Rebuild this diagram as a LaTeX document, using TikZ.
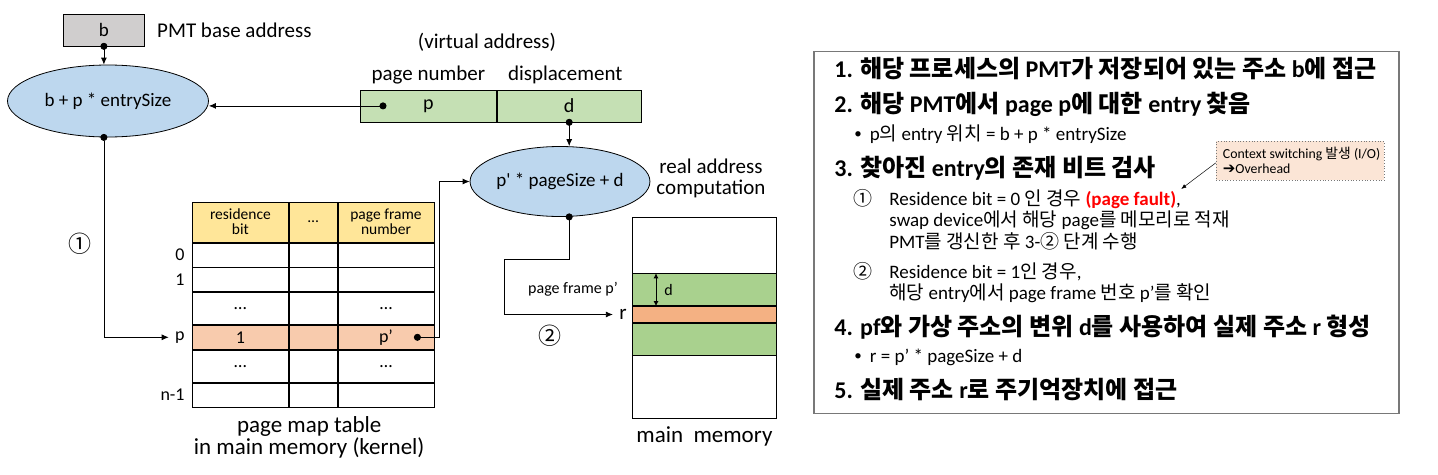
\documentclass[tikz,border=0pt]{standalone}
\usepackage{fontspec}
\setmainfont{Carlito}
\newfontfamily\plainfont{Carlito}
\newfontfamily\krfont{Noto Sans CJK KR}
\newfontfamily\symfont{DejaVu Sans}
\newcommand{\kor}[1]{{\krfont #1}}
\newcommand{\prm}{{\plainfont '}}
\newcommand{\bul}{\raisebox{1.5pt}{\fontsize{15}{15}\selectfont •}\hspace{8pt}}
\usetikzlibrary{arrows.meta,positioning,shapes.geometric}
\definecolor{regfill}{RGB}{208,206,206}
\definecolor{calcfill}{RGB}{189,215,238}
\definecolor{fieldfill}{RGB}{197,224,180}
\definecolor{headfill}{RGB}{255,230,153}
\definecolor{rowfill}{RGB}{248,203,173}
\definecolor{memgreen}{RGB}{169,209,142}
\definecolor{memorange}{RGB}{244,177,131}
\definecolor{notefill}{RGB}{251,229,214}
\definecolor{panelgray}{RGB}{120,120,120}

\begin{document}
\begin{tikzpicture}[
    x=1pt, y=-1pt,
    line width=0.8pt,
    lbl/.style={inner sep=0pt, align=center, font=\fontsize{21}{21}\selectfont},
    reg/.style={draw, fill=regfill, inner sep=0pt, minimum width=81pt, minimum height=32pt, font=\fontsize{19}{20}\selectfont},
    calc/.style={draw, ellipse, fill=calcfill, inner sep=0pt, font=\fontsize{19}{20}\selectfont},
    field/.style={draw, fill=fieldfill, inner sep=0pt, minimum height=32pt, font=\fontsize{20}{20}\selectfont},
    head/.style={draw, fill=headfill, inner sep=0pt, minimum height=40pt, align=center, font=\fontsize{15.5}{15}\selectfont},
    cell/.style={draw, inner sep=0pt, minimum height=24pt, font=\fontsize{18}{18}\selectfont},
    rowlab/.style={inner sep=0pt, font=\fontsize{18}{18}\selectfont},
    band/.style={draw, inner sep=0pt, minimum width=144pt},
    line/.style={-{Latex[length=7pt,width=6pt]}},
    dotline/.style={{Circle[length=7pt]}-{Latex[length=7pt,width=6pt]}, shorten <=-3.5pt},
    stephead/.style={anchor=base west, inner sep=0pt, font=\fontsize{24}{24}\selectfont\bfseries},
    stepsub/.style={anchor=base west, inner sep=0pt, font=\fontsize{19}{19}\selectfont}
]
\useasboundingbox (0,0) rectangle (1438,474);

% base register and first computation
\node[reg, anchor=north west] (bbox) at (63,13.5) {b};
\node[lbl, anchor=west, right=12pt of bbox] (bboxlab) {PMT base address};
\node[calc, minimum width=201pt, minimum height=72pt] (addrcalc) at (108,101) {b + p * entrySize};

% virtual address
\node[field, minimum width=136pt, anchor=north west] (pcell) at (360,89.5) {p};
\node[field, minimum width=144pt, right=0pt of pcell] (dcell) {d};
\node[lbl, above=5pt of pcell] (pnlab) {page number};
\node[lbl, above=5pt of dcell, xshift=-4pt] (dlab) {displacement};
\node[lbl] (vlab) at (487,42) {(virtual address)};
\coordinate (pdot) at ([xshift=23pt]pcell.west);

% real address computation
\node[calc, minimum width=176pt, minimum height=70pt] (realcalc) at (560,181.5) {p\prm{} * pageSize + d};
\node[lbl] (reallab) at (711,178) {real address\\computation};

% page map table
\node[head, minimum width=96pt, anchor=north west] (hres) at (192,201.7) {residence\\bit};
\node[head, minimum width=48pt, right=0pt of hres] (hdots) {…};
\node[head, minimum width=96pt, right=0pt of hdots] (hpf) {page frame\\number};
\node[cell, minimum width=96pt, below=0pt of hres] (r0a) {};
\node[cell, minimum width=48pt, below=0pt of hdots] (r0b) {};
\node[cell, minimum width=96pt, below=0pt of hpf] (r0c) {};
\node[cell, minimum width=96pt, below=0pt of r0a] (r1a) {};
\node[cell, minimum width=48pt, below=0pt of r0b] (r1b) {};
\node[cell, minimum width=96pt, below=0pt of r0c] (r1c) {};
\node[cell, minimum width=96pt, minimum height=32pt, below=0pt of r1a] (r2a) {…};
\node[cell, minimum width=48pt, minimum height=32pt, below=0pt of r1b] (r2b) {};
\node[cell, minimum width=96pt, minimum height=32pt, below=0pt of r1c] (r2c) {…};
\node[cell, fill=rowfill, minimum width=96pt, below=0pt of r2a] (rpa) {1};
\node[cell, fill=rowfill, minimum width=48pt, below=0pt of r2b] (rpb) {};
\node[cell, fill=rowfill, minimum width=96pt, below=0pt of r2c] (rpc) {p’};
\node[cell, minimum width=96pt, minimum height=32pt, below=0pt of rpa] (r4a) {…};
\node[cell, minimum width=48pt, minimum height=32pt, below=0pt of rpb] (r4b) {};
\node[cell, minimum width=96pt, minimum height=32pt, below=0pt of rpc] (r4c) {…};
\node[cell, minimum width=96pt, below=0pt of r4a] (rna) {};
\node[cell, minimum width=48pt, below=0pt of r4b] (rnb) {};
\node[cell, minimum width=96pt, below=0pt of r4c] (rnc) {};
\node[rowlab, left=7pt of r0a] (lab0) {0};
\node[rowlab, left=7pt of r1a] (lab1) {1};
\node[rowlab, left=7pt of rpa] (labp) {p};
\node[rowlab, left=7pt of rna] (labn) {n-1};
\node[lbl, font=\fontsize{23}{21.5}\selectfont, below=9pt of rnb, xshift=-4pt] (pmtlab) {page map table\\in main memory (kernel)};
\coordinate (pfdot) at ([xshift=-17pt]rpc.east);

% main memory
\node[band, minimum height=200.5pt, anchor=north west] (mem) at (632,217.3) {};
\node[band, fill=memgreen, minimum height=32pt, anchor=north west] (frametop) at (632,273.3) {};
\node[band, fill=memorange, minimum height=16pt, below=0pt of frametop] (target) {};
\node[band, fill=memgreen, minimum height=32.4pt, below=0pt of target] (framebot) {};
\node[rowlab, font=\fontsize{21}{20}\selectfont, left=5pt of target] (rlab) {r};
\node[rowlab, font=\fontsize{16}{16}\selectfont, anchor=west] (offlab) at ([xshift=32pt]frametop.west) {d};
\node[lbl, font=\fontsize{23}{21}\selectfont, below=8pt of mem] (memlab) {main\ \ memory};
\node[lbl, font=\fontsize{16}{16}\selectfont] (pflab) at (573,289) {page frame p’};
\node[lbl, font=\fontsize{23}{20}\selectfont] (stepone) at (80,244) {\kor{①}};
\node[lbl, font=\fontsize{23}{20}\selectfont] (steptwo) at (550,336) {\kor{②}};

% connectors
\draw[dotline] (bbox.south) -- (bbox.south |- addrcalc.north);
\draw[dotline] (pdot) -- (addrcalc.east |- pdot);
\draw[dotline] (bbox.south |- addrcalc.south) |- ([xshift=-6pt]labp.west);
\draw[dotline] (dcell.south) -- (dcell.south |- realcalc.north);
\draw[dotline] (pfdot) -| ([xshift=-30pt]realcalc.west) -- (realcalc.west);
\draw[dotline] (dcell.south |- realcalc.south) |- ++(-65,42.5) |- ([xshift=-6pt]rlab.west);
\draw[{Latex[length=5pt,width=5pt]}-{Latex[length=5pt,width=5pt]}] ([xshift=24pt]frametop.north west) -- ([xshift=24pt]frametop.south west);

% steps panel
\node[draw=panelgray, line width=1.2pt, minimum width=585pt, minimum height=362pt, anchor=north west] (panel) at (813.3,51) {};
\node[stephead] (task1) at (834,77) {1. \kor{해당 프로세스의} PMT\kor{가 저장되어 있는 주소} b\kor{에 접근}};
\node[stephead] (task2) at (834,112) {2. \kor{해당} PMT\kor{에서} page p\kor{에 대한} entry \kor{찾음}};
\node[stepsub] (task2a) at (854,140) {\bul p\kor{의} entry \kor{위치} = b + p * entrySize};
\node[stephead] (task3) at (834,176) {3. \kor{찾아진} entry\kor{의 존재 비트 검사}};
\node[stepsub] (task3m1) at (853,205) {\kor{①}};
\node[stepsub] (task3a) at (889,205) {Residence bit = 0 \kor{인 경우} \textcolor{red}{\bfseries (page fault)},};
\node[stepsub] (task3b) at (889,226.5) {swap device\kor{에서 해당} page\kor{를 메모리로 적재}};
\node[stepsub] (task3c) at (889,248) {PMT\kor{를 갱신한 후} 3-\kor{②} \kor{단계 수행}};
\node[stepsub] (task3m2) at (853,278) {\kor{②}};
\node[stepsub] (task3d) at (889,278) {Residence bit = 1\kor{인 경우},};
\node[stepsub] (task3e) at (889,299.5) {\kor{해당} entry\kor{에서} page frame \kor{번호} p’\kor{를 확인}};
\node[stephead] (task4) at (834,335) {4. pf\kor{와 가상 주소의 변위} d\kor{를 사용하여 실제 주소} r \kor{형성}};
\node[stepsub] (task4a) at (854,362) {\bul r = p’ * pageSize + d};
\node[stephead] (task5) at (834,398) {5. \kor{실제 주소} r\kor{로 주기억장치에 접근}};
\node[draw=panelgray, dotted, fill=notefill, line width=0.8pt, minimum width=168pt, minimum height=39pt, anchor=north west,
      inner sep=0pt] (note) at (1215.7,141) {};
\node[anchor=base west, inner sep=0pt, font=\fontsize{13.8}{15}\selectfont] (notea) at (1222.5,158) {Context switching \kor{발생} (I/O)};
\node[anchor=base west, inner sep=0pt, font=\fontsize{13.8}{15}\selectfont] (noteb) at (1222.5,173) {{\symfont\fontsize{15}{14}\selectfont ➔}Overhead};
\draw[-{Latex[length=5pt,width=4pt]}, line width=0.5pt] ([yshift=-2pt]note.west) -- (task3a.north east);
\end{tikzpicture}
\end{document}
